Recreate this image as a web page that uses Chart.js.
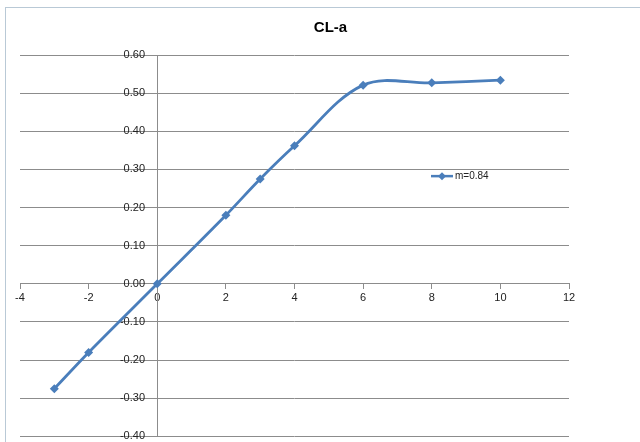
<!DOCTYPE html>
<html>
<head>
<meta charset="utf-8">
<script src="https://cdn.jsdelivr.net/npm/chart.js@4.4.1/dist/chart.umd.min.js"></script>
<style>
  html, body { margin: 0; padding: 0; background: #ffffff; }
  #wrap { position: relative; width: 640px; height: 442px; overflow: hidden; }
  #frame { position: absolute; left: 5px; top: 7px; width: 660px; height: 460px; border-left: 1px solid #b9c9d6; border-top: 1px solid #b9c9d6; }
  canvas { position: absolute; left: 0; top: 0; }
</style>
</head>
<body>
<div id="wrap">
  <div id="frame"></div>
  <canvas id="c" width="640" height="443"></canvas>
</div>
<script>
const chartTitle = 'CL-a';
const seriesName = 'm=0.84';
const alphaValues = [-3, -2, 0, 2, 3, 4, 6, 8, 10];
const clValues = [-0.275, -0.18, 0.0, 0.18, 0.275, 0.362, 0.521, 0.527, 0.534];
const xTickRange = { min: -4, max: 12, step: 2 };
const yTickRange = { min: -0.4, max: 0.6, step: 0.1 };

const lineColor = '#4a7ebb';
const gridColor = '#8c8c8c';
const fontFamily = '"Liberation Sans", "DejaVu Sans", sans-serif';

const points = alphaValues.map((a, i) => ({ x: a, y: clValues[i] }));

const titleAndLegend = {
  id: 'titleAndLegend',
  afterDraw(chart) {
    const ctx = chart.ctx;
    const ds = chart.data.datasets[0];
    const area = chart.chartArea;
    ctx.save();
    // title
    ctx.fillStyle = '#000';
    ctx.font = 'bold 15px ' + fontFamily;
    ctx.textAlign = 'center';
    ctx.textBaseline = 'alphabetic';
    ctx.fillText(chartTitle, 330.5, 32);
    // legend inside plot area
    const lx = area.left + (area.right - area.left) * 0.7486;
    const ly = area.top + (area.bottom - area.top) * 0.3176;
    ctx.strokeStyle = ds.borderColor;
    ctx.lineWidth = 2.5;
    ctx.beginPath();
    ctx.moveTo(lx, ly);
    ctx.lineTo(lx + 22, ly);
    ctx.stroke();
    ctx.fillStyle = ds.borderColor;
    ctx.beginPath();
    const cx = lx + 11, r = 4;
    ctx.moveTo(cx, ly - r); ctx.lineTo(cx + r, ly); ctx.lineTo(cx, ly + r); ctx.lineTo(cx - r, ly); ctx.closePath();
    ctx.fill();
    ctx.fillStyle = '#222';
    ctx.font = '10px ' + fontFamily;
    ctx.textAlign = 'left';
    ctx.textBaseline = 'middle';
    ctx.fillText(ds.label, lx + 24, ly + 0.5);
    ctx.restore();
  }
};

new Chart(document.getElementById('c'), {
  type: 'line',
  data: {
    datasets: [{
      label: seriesName,
      data: points,
      borderColor: lineColor,
      backgroundColor: lineColor,
      borderWidth: 2.8,
      tension: 0.35,
      pointStyle: 'rectRot',
      pointRadius: 4.5,
      pointBorderWidth: 0,
      fill: false
    }]
  },
  options: {
    responsive: false,
    animation: false,
    layout: { padding: { top: 55, left: 20, right: 71, bottom: 0 } },
    plugins: {
      legend: { display: false },
      tooltip: { enabled: false },
      title: { display: false }
    },
    scales: {
      x: {
        type: 'linear',
        position: { y: 0 },
        min: xTickRange.min,
        max: xTickRange.max,
        ticks: {
          stepSize: xTickRange.step,
          color: '#222',
          font: { family: fontFamily, size: 11 },
          padding: 3,
          maxRotation: 0
        },
        grid: {
          drawOnChartArea: false,
          drawTicks: true,
          tickLength: 5,
          color: gridColor
        },
        border: { color: gridColor, width: 1 }
      },
      y: {
        type: 'linear',
        position: { x: 0 },
        min: yTickRange.min,
        max: yTickRange.max,
        ticks: {
          stepSize: yTickRange.step,
          color: '#222',
          font: { family: fontFamily, size: 11 },
          padding: 0,
          callback: (v) => Number(v).toFixed(2) + '    '
        },
        grid: {
          color: gridColor,
          lineWidth: 1,
          tickLength: 5
        },
        border: { color: gridColor, width: 1 }
      }
    }
  },
  plugins: [titleAndLegend]
});
</script>
</body>
</html>
